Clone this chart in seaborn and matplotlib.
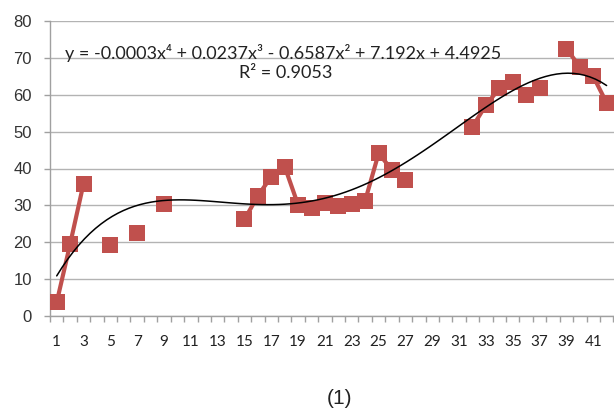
import numpy as np
import pandas as pd
import matplotlib
matplotlib.use("Agg")
import matplotlib.pyplot as plt
import seaborn as sns

# ---- data ----
categories = list(range(1, 43))
values = [3.7, 19.5, 35.9, np.nan, 19.2, np.nan, 22.5, np.nan, 30.4, np.nan,
          np.nan, np.nan, np.nan, np.nan, 26.2, 32.6, 37.8, 40.5, 30.1, 29.3,
          30.6, 29.9, 30.5, 31.3, 44.1, 39.6, 37.0, np.nan, np.nan, np.nan,
          np.nan, 51.3, 57.2, 61.7, 63.5, 59.9, 61.7, np.nan, 72.5, 67.6,
          65.0, 57.8]
y_ticks = [0, 10, 20, 30, 40, 50, 60, 70, 80]
x_tick_labels = [str(i) for i in range(1, 42, 2)]
equation = "y = -0.0003x⁴ + 0.0237x³ - 0.6587x² + 7.192x + 4.4925"
r2_text = "R² = 0.9053"
caption = "(1)"

df = pd.DataFrame({"x": categories, "y": values})
df["seg"] = df["y"].isna().cumsum()
data = df.dropna().copy()

sns.set_theme(style="white")
plt.rcParams["font.family"] = ["Lato", "DejaVu Sans"]

fig = plt.figure(figsize=(6.14, 4.12), dpi=100)
ax = fig.add_axes([50 / 614, 96 / 412, 1 - 50 / 614, (316 - 21) / 412])

red = "#C0504D"
sns.lineplot(data=data, x="x", y="y", units="seg", estimator=None, ax=ax,
             color=red, lw=3.0, marker="s", markersize=11,
             markeredgewidth=0, legend=False, zorder=3)
sns.regplot(data=data, x="x", y="y", order=4, ci=None, scatter=False,
            truncate=True, ax=ax, line_kws=dict(color="black", lw=1.1, zorder=4))

ax.set_xlim(0.5, 42.55)
ax.set_ylim(0, 80)
ax.set_yticks(y_ticks)
ax.set_yticklabels([str(v) for v in y_ticks], fontsize=12, color="#333333",
                   family=["Liberation Sans", "DejaVu Sans"])
ax.yaxis.grid(True, color="#B3B3B3", lw=1.0)
ax.set_axisbelow(True)

ax.set_xticks(np.arange(0.5, 43, 1.0))
ax.set_xticklabels([])
ax.set_xticks(range(1, 42, 2), minor=True)
ax.set_xticklabels(x_tick_labels, minor=True, fontsize=11, color="#222222")
ax.tick_params(axis="x", which="major", length=4, width=1, color="#A0A0A0",
               direction="out", bottom=True)
ax.tick_params(axis="x", which="minor", length=0, pad=14)
ax.tick_params(axis="y", length=4, width=1, color="#A0A0A0", direction="out",
               left=True, pad=9)

for s in ["top", "right"]:
    ax.spines[s].set_visible(False)
for s in ["left", "bottom"]:
    ax.spines[s].set_color("#A0A0A0")
    ax.spines[s].set_linewidth(1.0)

ax.set_xlabel("")
ax.set_ylabel("")

ax.text(1.6, 71.3, equation, fontsize=13, color="#222222", va="center", ha="left")
ax.text(14.6, 65.9, r2_text, fontsize=13, color="#222222", va="center", ha="left")

fig.text(339 / 614, 1 - 398 / 412, caption, fontsize=15, color="#222222",
         ha="center", va="center", family=["Liberation Sans", "DejaVu Sans"])

fig.savefig("out.png", dpi=100)
